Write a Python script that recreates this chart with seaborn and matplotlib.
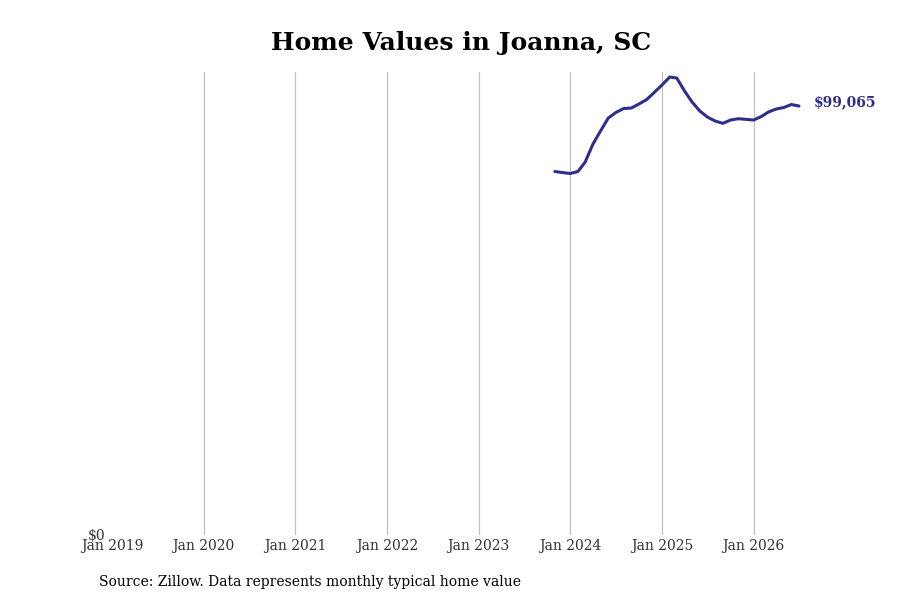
import matplotlib
matplotlib.use("Agg")
import matplotlib.pyplot as plt
import matplotlib.dates as mdates
import seaborn as sns
import pandas as pd

# Data
start_month = "2023-11-01"
values = [83940, 83709, 83478, 83940, 86133, 90290, 93292, 96294, 97564, 98487,
          98603, 99527, 100566, 102182, 103914, 105761, 105530, 102528, 99988, 97910,
          96525, 95601, 95070, 95832, 96132, 95993, 95832, 96640, 97679, 98372,
          98718, 99411, 99065]
tick_years = [2019, 2020, 2021, 2022, 2023, 2024, 2025, 2026]
title = "Home Values in Joanna, SC"
source = "Source: Zillow. Data represents monthly typical home value"
last_label = "$99,065"

dates = pd.date_range(start_month, periods=len(values), freq="MS")
df = pd.DataFrame({"date": dates, "value": values})

sns.set_theme(style="white")
plt.rcParams['font.family'] = ['DejaVu Serif']

line_color = "#2E2F8C"

fig = plt.figure(figsize=(9, 6), dpi=100)
ax = fig.add_axes([112/900, 1 - 535/600, (810 - 112)/900, (535 - 72)/600])

sns.lineplot(data=df, x="date", y="value", ax=ax, color=line_color, linewidth=2.2)

ax.set_xlim(pd.Timestamp("2019-01-01"), pd.Timestamp("2026-08-14"))
ax.set_ylim(0, max(values) * 1.011)

ticks = [pd.Timestamp(f"{y}-01-01") for y in tick_years]
ax.set_xticks(ticks)
ax.set_xticklabels([f"Jan {y}" for y in tick_years])
ax.set_yticks([0])
ax.set_yticklabels(["$0"])
ax.tick_params(axis="both", length=0, labelsize=10, labelcolor="#333333")
ax.tick_params(axis="x", pad=3)
ax.tick_params(axis="y", pad=5)

ax.grid(axis="x", color="#c0c0c0", linewidth=0.9)
ax.grid(axis="y", visible=False)
ax.xaxis.get_gridlines()[0].set_visible(False)
for s in ax.spines.values():
    s.set_visible(False)
ax.set_xlabel("")
ax.set_ylabel("")

ax.annotate(last_label, xy=(dates[-1], values[-1]), xytext=(11, 3),
            textcoords="offset points", color=line_color, fontsize=10,
            fontweight="bold", va="center", ha="left", annotation_clip=False)

fig.text(461/900, 1 - 43/600, title, ha="center", va="center",
         fontsize=18, fontweight="bold", color="black")
fig.text(99/900, 1 - 582/600, source, ha="left", va="center",
         fontsize=10, color="black")

fig.savefig("out.png", dpi=100)
